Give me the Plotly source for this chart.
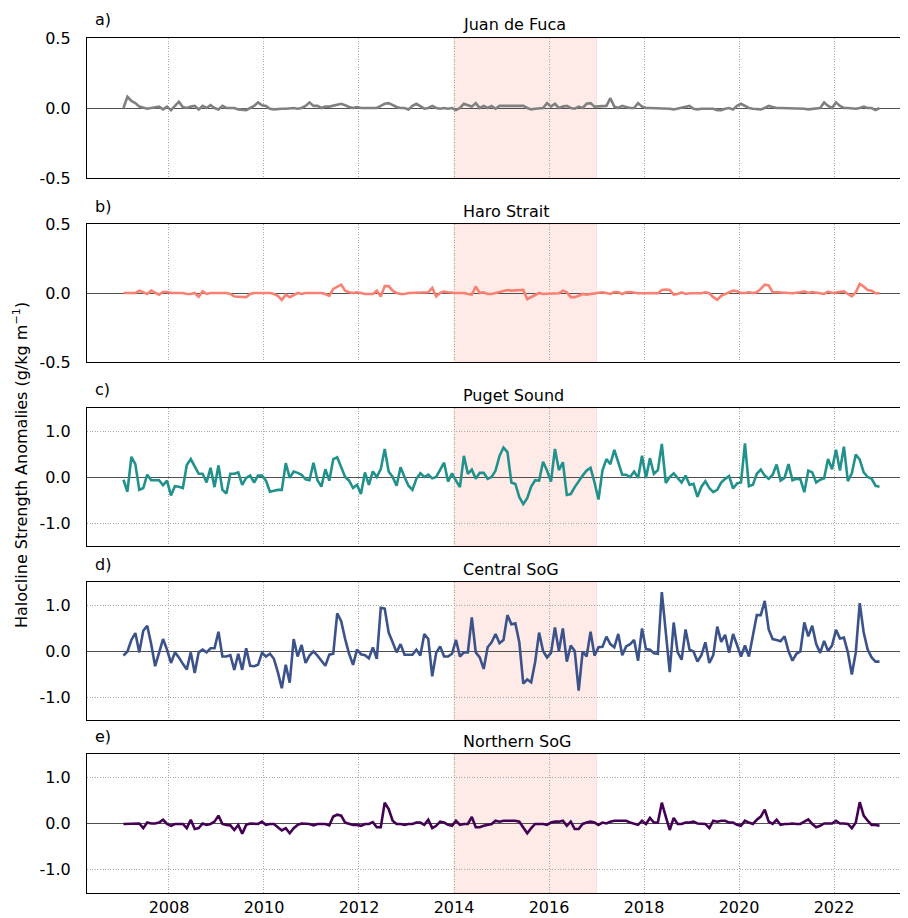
import plotly.graph_objects as go

W, H = 908, 918
OFF = 8  # the page body offsets the figure by 8 px; layout positions are given in screen px

# monthly time axis, Jan 2007 - Dec 2022 (decimal years, mid-month)
years = list(range(2007, 2023))
x_time = [yr + (m + 0.5) / 12 for yr in years for m in range(12)]

panel_titles = ["Juan de Fuca", "Haro Strait", "Puget Sound", "Central SoG", "Northern SoG"]
panel_letters = ["a)", "b)", "c)", "d)", "e)"]
x_tick_years = [2008, 2010, 2012, 2014, 2016, 2018, 2020, 2022]
blob_start, blob_end = 2014, 2017

juan_de_fuca = [
    0.0, 0.08, 0.05, 0.035, 0.01, 0.0, -0.005, 0.0, 0.007, 0.01, -0.01, 0.01,
    -0.015, 0.015, 0.045, 0.007, 0.0, 0.01, 0.015, -0.01, 0.015, 0.0, 0.02, 0.0,
    -0.01, 0.015, 0.0, 0.0, 0.0, -0.01, -0.01, -0.015, 0.0, 0.015, 0.04, 0.02,
    0.015, -0.005, -0.01, -0.005, -0.005, -0.005, 0.0, 0.0, -0.005, 0.0, 0.015, 0.04,
    0.015, 0.015, 0.0, 0.01, 0.01, 0.015, 0.02, 0.03, 0.02, 0.007, 0.0, 0.007,
    0.0, 0.0, 0.0, 0.0, 0.0, 0.015, 0.03, 0.035, 0.02, 0.007, 0.0, 0.0,
    -0.01, 0.015, 0.03, 0.01, -0.005, 0.0, 0.015, 0.0, -0.005, 0.0, -0.005, 0.0,
    -0.015, 0.0, 0.03, 0.02, 0.01, 0.035, 0.0, 0.015, 0.0, 0.015, -0.005, 0.015,
    0.015, 0.015, 0.01, 0.015, 0.01, 0.015, 0.0, -0.01, -0.005, -0.005, 0.0, 0.035,
    0.01, 0.03, 0.0, 0.01, 0.015, 0.0, -0.005, 0.01, 0.0, 0.03, 0.035, 0.01,
    0.01, 0.015, 0.015, 0.07, 0.01, 0.0, 0.015, 0.007, 0.0, 0.0, 0.035, 0.01,
    0.0, 0.0, 0.0, 0.0, 0.0, 0.0, -0.005, -0.01, -0.005, 0.0, 0.007, 0.015,
    -0.005, -0.01, -0.005, -0.005, -0.005, -0.005, -0.015, -0.015, -0.005, 0.0, -0.01, 0.015,
    0.03, 0.015, 0.0, -0.005, -0.01, -0.01, 0.0, 0.015, 0.007, 0.0, 0.0, 0.0,
    -0.005, 0.0, -0.005, 0.0, -0.005, -0.01, -0.005, -0.005, 0.0, 0.04, 0.015, 0.0,
    0.04, 0.015, 0.0, 0.0, -0.005, -0.005, 0.0, 0.01, 0.0, 0.0, -0.015, 0.0,
]

haro_strait = [
    0.0, 0.0, 0.0, 0.0, 0.017, 0.005, -0.007, 0.017, 0.005, -0.012, 0.007, 0.007,
    0.0, 0.0, 0.0, 0.0, -0.007, -0.007, 0.0, -0.027, 0.012, -0.007, 0.0, 0.0,
    0.0, 0.0, 0.0, -0.007, -0.025, -0.027, -0.027, -0.03, -0.007, 0.0, 0.0, 0.0,
    0.0, 0.0, -0.007, -0.02, -0.05, -0.012, -0.03, -0.015, 0.0, -0.007, 0.0, 0.0,
    0.0, 0.0, 0.0, -0.007, -0.02, 0.03, 0.047, 0.06, 0.017, 0.005, 0.0, 0.005,
    0.0, -0.007, -0.007, -0.007, 0.017, -0.025, 0.05, 0.05, 0.017, 0.0, -0.007, -0.007,
    0.0, 0.0, 0.0, 0.005, 0.005, 0.005, 0.037, -0.025, 0.0, 0.01, 0.005, 0.0,
    0.0, 0.0, 0.0, -0.007, -0.012, 0.047, 0.0, 0.005, -0.007, -0.007, 0.0, 0.005,
    0.017, 0.022, 0.017, 0.017, 0.017, 0.022, -0.045, -0.03, -0.02, 0.0, -0.007, -0.007,
    -0.007, -0.007, -0.002, 0.017, 0.005, -0.03, -0.03, -0.02, -0.007, -0.012, -0.007, 0.0,
    0.005, 0.005, 0.0, -0.007, 0.007, 0.005, -0.007, 0.005, 0.007, 0.0, -0.002, -0.002,
    0.0, 0.0, 0.0, -0.002, 0.022, 0.025, 0.022, -0.012, -0.007, 0.005, -0.007, -0.002,
    -0.002, 0.0, -0.002, 0.005, -0.002, -0.03, -0.05, -0.02, -0.007, 0.005, 0.017, 0.012,
    0.0, 0.0, 0.005, 0.0, 0.005, 0.03, 0.06, 0.055, 0.005, 0.005, 0.005, 0.0,
    0.0, -0.002, 0.0, 0.005, 0.012, 0.0, 0.007, 0.005, -0.002, -0.007, 0.01, 0.0,
    0.005, 0.007, 0.012, -0.007, -0.025, 0.005, 0.066, 0.047, 0.022, 0.017, -0.002, -0.002,
]

puget_sound = [
    -0.06, -0.32, 0.44, 0.28, -0.28, -0.24, 0.05, -0.07, -0.07, -0.07, -0.18, -0.08,
    -0.40, -0.20, -0.21, -0.24, 0.26, 0.39, 0.23, 0.07, 0.07, -0.12, 0.20, -0.22,
    0.25, -0.28, -0.36, 0.07, 0.07, 0.10, -0.17, -0.02, 0.03, -0.12, 0.03, 0.03,
    -0.08, -0.32, -0.30, -0.28, -0.28, 0.30, -0.02, 0.12, 0.09, 0.05, -0.05, -0.07,
    0.31, -0.07, -0.21, 0.17, -0.08, 0.39, 0.43, 0.22, 0.00, -0.08, -0.24, -0.17,
    -0.37, 0.10, -0.17, 0.12, 0.00, 0.17, 0.61, 0.12, 0.00, -0.19, 0.21, 0.00,
    -0.19, -0.28, -0.04, 0.08, 0.00, 0.05, -0.03, 0.00, 0.14, 0.31, -0.10, 0.08,
    -0.08, -0.22, 0.46, 0.07, 0.16, -0.04, 0.09, 0.09, -0.04, 0.00, 0.14, 0.46,
    0.64, 0.54, -0.12, -0.15, -0.44, -0.59, -0.46, -0.21, -0.07, -0.08, 0.33, 0.14,
    -0.10, 0.61, 0.15, 0.32, -0.39, -0.37, -0.22, -0.08, 0.03, 0.14, 0.20, -0.12,
    -0.49, 0.14, 0.39, 0.28, 0.59, 0.32, 0.05, 0.05, 0.00, 0.12, -0.02, 0.46,
    -0.02, 0.41, 0.07, 0.15, 0.72, -0.13, 0.00, 0.08, -0.02, -0.12, 0.03, -0.17,
    -0.15, -0.43, -0.21, -0.09, -0.24, -0.33, -0.28, -0.12, -0.04, 0.02, -0.25, -0.14,
    -0.12, 0.73, -0.20, -0.17, 0.07, 0.16, 0.03, -0.04, 0.05, 0.27, -0.08, -0.02,
    0.28, -0.07, -0.04, -0.05, -0.33, 0.14, 0.10, -0.12, -0.06, -0.03, 0.39, 0.17,
    0.59, 0.14, 0.66, -0.09, 0.08, 0.49, 0.38, 0.10, 0.00, -0.04, -0.19, -0.21,
]

central_sog = [
    -0.10, -0.01, 0.24, 0.39, -0.03, 0.44, 0.55, 0.15, -0.33, -0.03, 0.26, 0.03,
    -0.26, -0.03, -0.14, -0.28, -0.40, -0.03, -0.48, -0.03, 0.03, -0.03, 0.06, 0.06,
    0.42, -0.12, -0.12, -0.09, -0.41, -0.06, -0.41, 0.06, -0.32, -0.33, -0.30, -0.04,
    -0.12, -0.06, -0.17, -0.46, -0.81, -0.30, -0.69, 0.26, -0.12, 0.13, -0.26, -0.10,
    -0.01, -0.10, -0.21, -0.32, -0.08, -0.06, 0.82, 0.65, 0.26, -0.06, -0.30, 0.03,
    -0.07, -0.09, -0.16, 0.08, -0.17, 0.94, 0.92, 0.40, 0.19, -0.03, 0.15, -0.08,
    -0.08, -0.08, 0.03, -0.10, 0.37, 0.26, -0.55, -0.04, 0.10, -0.12, -0.12, -0.06,
    0.24, -0.12, -0.03, -0.03, 0.73, -0.03, -0.14, -0.39, 0.08, 0.19, 0.37, 0.17,
    0.24, 0.78, 0.58, 0.60, 0.19, -0.71, -0.62, -0.68, -0.24, 0.40, 0.00, -0.14,
    -0.04, 0.51, 0.00, 0.49, -0.23, 0.12, 0.00, -0.86, -0.01, -0.12, 0.42, -0.10,
    0.08, 0.09, 0.31, 0.15, 0.08, 0.37, -0.09, 0.10, 0.15, 0.24, -0.21, 0.49,
    0.04, 0.03, -0.05, -0.06, 1.28, 0.40, -0.46, 0.62, -0.03, -0.19, 0.47, 0.03,
    -0.01, -0.23, -0.09, 0.19, -0.26, -0.09, 0.53, 0.20, 0.35, -0.04, 0.37, 0.13,
    -0.12, 0.12, -0.12, 0.33, 0.78, 0.78, 1.09, 0.47, 0.26, 0.24, 0.21, 0.32,
    0.00, -0.21, -0.06, -0.01, 0.62, 0.32, 0.55, 0.15, -0.04, 0.22, 0.00, 0.12,
    0.46, 0.27, 0.29, -0.03, -0.51, -0.03, 1.04, 0.40, 0.03, -0.14, -0.23, -0.23,
]

northern_sog = [
    -0.01, -0.01, -0.01, 0.00, 0.00, -0.10, 0.02, 0.00, 0.00, 0.02, 0.08, -0.01,
    -0.05, -0.01, -0.01, -0.01, -0.10, 0.08, -0.12, -0.10, 0.00, -0.03, -0.01, 0.04,
    0.17, -0.01, -0.03, -0.04, -0.14, -0.03, -0.22, -0.03, 0.00, -0.01, -0.01, 0.04,
    -0.03, -0.01, -0.01, -0.08, -0.15, -0.10, -0.21, -0.10, -0.03, 0.00, -0.01, -0.01,
    -0.04, -0.01, -0.01, -0.01, -0.04, 0.15, 0.19, 0.17, 0.02, 0.00, -0.03, -0.03,
    -0.05, -0.01, -0.01, 0.03, -0.08, -0.08, 0.45, 0.31, 0.06, -0.01, -0.01, -0.03,
    -0.01, -0.01, 0.02, 0.02, -0.03, 0.08, -0.10, -0.05, 0.04, 0.02, -0.03, -0.05,
    0.06, -0.03, -0.01, -0.01, 0.14, -0.08, -0.08, -0.05, -0.03, -0.01, 0.06, 0.04,
    0.06, 0.06, 0.06, 0.06, 0.04, -0.10, -0.21, -0.10, -0.01, -0.01, -0.01, -0.03,
    0.02, 0.04, 0.04, 0.06, -0.05, 0.04, -0.12, -0.12, -0.01, 0.02, 0.04, 0.02,
    -0.03, 0.02, 0.00, 0.04, 0.06, 0.06, 0.06, 0.06, 0.02, -0.01, -0.03, 0.06,
    -0.01, 0.12, 0.02, 0.02, 0.45, 0.15, -0.14, 0.12, -0.01, -0.01, 0.02, 0.02,
    0.04, 0.00, 0.00, -0.01, -0.10, 0.06, 0.04, 0.06, 0.06, 0.02, 0.02, -0.03,
    -0.05, 0.06, 0.02, -0.01, 0.08, 0.15, 0.30, 0.04, -0.01, 0.08, -0.03, -0.01,
    -0.01, 0.00, -0.01, -0.01, 0.04, 0.09, -0.01, -0.08, -0.05, 0.00, 0.00, 0.00,
    0.06, 0.00, 0.00, -0.01, -0.10, 0.02, 0.46, 0.17, 0.06, -0.03, -0.03, -0.05,
]

series = [juan_de_fuca, haro_strait, puget_sound, central_sog, northern_sog]
colors = ["#808080", "#fa8072", "#21918c", "#3b528b", "#440154"]
y_ranges = [[-0.5, 0.5], [-0.5, 0.5], [-1.5, 1.5], [-1.5, 1.5], [-1.5, 1.5]]
y_ticks = [[-0.5, 0.0, 0.5], [-0.5, 0.0, 0.5], [-1.0, 0.0, 1.0], [-1.0, 0.0, 1.0], [-1.0, 0.0, 1.0]]

# panel screen-pixel extents (top, bottom)
panel_px = [(38, 178), (224, 362), (408, 546), (582, 720), (754, 893)]
x_left_px = 87


def px(x):
    return (x - OFF) / W


def py(y):
    return 1 - (y - OFF) / H


FONT = "DejaVu Sans"
GRID = dict(showgrid=True, gridcolor="#a8a8a8", griddash="1px,1.6px", gridwidth=0.9)
fig = go.Figure()
layout = dict(
    width=W, height=H,
    margin=dict(l=0, r=0, t=0, b=0, autoexpand=False),
    paper_bgcolor="white", plot_bgcolor="white",
    showlegend=False,
    font=dict(family=FONT, size=16, color="black"),
)
shapes = []
annotations = []
for i, (vals, col) in enumerate(zip(series, colors)):
    n = i + 1
    xa = "x" if n == 1 else f"x{n}"
    ya = "y" if n == 1 else f"y{n}"
    fig.add_trace(go.Scatter(x=x_time, y=vals, mode="lines",
                             line=dict(color=col, width=2.6),
                             xaxis=xa, yaxis=ya, hoverinfo="skip"))
    top, bot = panel_px[i]
    dom = [py(bot), py(top)]
    layout[f"xaxis{'' if n == 1 else n}"] = dict(
        domain=[px(x_left_px), 1], range=[2006.274, 2023.726], anchor=ya,
        tickvals=x_tick_years, ticktext=[str(v) for v in x_tick_years],
        showticklabels=(n == 5), ticks="", automargin=False,
        zeroline=False, showline=True, mirror=True, linecolor="black", linewidth=1.3,
        tickfont=dict(size=16, family=FONT),
        **GRID,
        **({} if n == 1 else {"matches": "x"}),
    )
    layout[f"yaxis{'' if n == 1 else n}"] = dict(
        domain=dom, range=y_ranges[i], anchor=xa,
        tickvals=y_ticks[i], ticktext=[f"{v:.1f}" for v in y_ticks[i]],
        ticks="", ticklabelstandoff=12, automargin=False,
        zeroline=True, zerolinecolor="#505050", zerolinewidth=1.3,
        showline=True, mirror=False, linecolor="black", linewidth=1.3,
        tickfont=dict(size=16, family=FONT),
        **GRID,
    )
    shapes.append(dict(type="rect", xref=xa, yref=f"{ya} domain",
                       x0=blob_start, x1=blob_end, y0=0, y1=1,
                       fillcolor="rgba(250,128,114,0.16)",
                       line=dict(width=1, color="rgba(250,128,114,0.2)"), layer="below"))
    annotations.append(dict(text=panel_letters[i], xref="paper", yref="paper",
                            x=px(93), y=py(top - 18), xanchor="left", yanchor="middle",
                            showarrow=False, font=dict(size=16, family=FONT)))
    annotations.append(dict(text=panel_titles[i], xref="paper", yref="paper",
                            x=px(461), y=py(top - 13), xanchor="left", yanchor="middle",
                            showarrow=False, font=dict(size=16, family=FONT)))

annotations.append(dict(text="Halocline Strength Anomalies (g/kg m<sup>−1</sup>)",
                        xref="paper", yref="paper", x=px(20), y=py(465),
                        xanchor="center", yanchor="middle", textangle=-90,
                        showarrow=False, font=dict(size=16, family=FONT)))
layout["shapes"] = shapes
layout["annotations"] = annotations
fig.update_layout(**layout)
fig.write_html("out.html")
